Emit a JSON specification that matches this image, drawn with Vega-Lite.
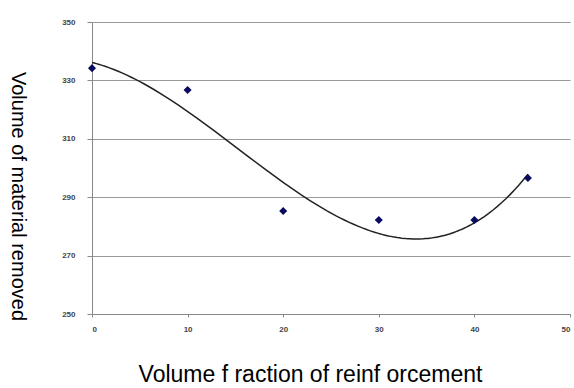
{
  "$schema": "https://vega.github.io/schema/vega-lite/v6.json",
  "width": 478,
  "height": 292,
  "autosize": "none",
  "padding": {"left": 92, "top": 22, "right": 4, "bottom": 74},
  "background": "white",
  "config": {
    "view": {"stroke": null},
    "axis": {"labelFont": "Arial", "titleFont": "Arial", "labelColor": "#444", "labelFontSize": 8, "labelFontWeight": "bold", "titleFontWeight": "normal", "titleColor": "#000", "domainColor": "#888", "tickColor": "#888", "gridColor": "#999"}
  },
  "data": {"values": [
    {"x": 0, "y": 334.2},
    {"x": 10, "y": 326.7},
    {"x": 20, "y": 285.3},
    {"x": 30, "y": 282.2},
    {"x": 40, "y": 282.2},
    {"x": 45.6, "y": 296.6}
  ]},
  "layer": [
    {
      "transform": [{"regression": "y", "on": "x", "method": "poly", "order": 3, "extent": [0, 45.6]}],
      "mark": {"type": "line", "color": "#222", "strokeWidth": 1.5},
      "encoding": {
        "x": {"field": "x", "type": "quantitative"},
        "y": {"field": "y", "type": "quantitative"}
      }
    },
    {
      "mark": {"type": "point", "filled": true, "shape": "diamond", "size": 65, "color": "#0a0a60", "opacity": 1},
      "encoding": {
        "x": {"field": "x", "type": "quantitative", "scale": {"domain": [0, 50], "nice": false}, "axis": {"values": [0, 10, 20, 30, 40, 50], "grid": false, "title": "Volume f raction of reinf orcement", "titleFontSize": 23, "titlePadding": 30, "titleX": 218, "labelPadding": 8, "tickSize": 3}},
        "y": {"field": "y", "type": "quantitative", "scale": {"domain": [250, 350], "nice": false, "zero": false}, "axis": {"values": [250, 270, 290, 310, 330, 350], "grid": true, "title": "Volume of material removed", "titleFontSize": 20, "titleAngle": 90, "titlePadding": 54, "titleY": 174, "labelPadding": 12, "tickSize": 5}}
      }
    }
  ]
}
